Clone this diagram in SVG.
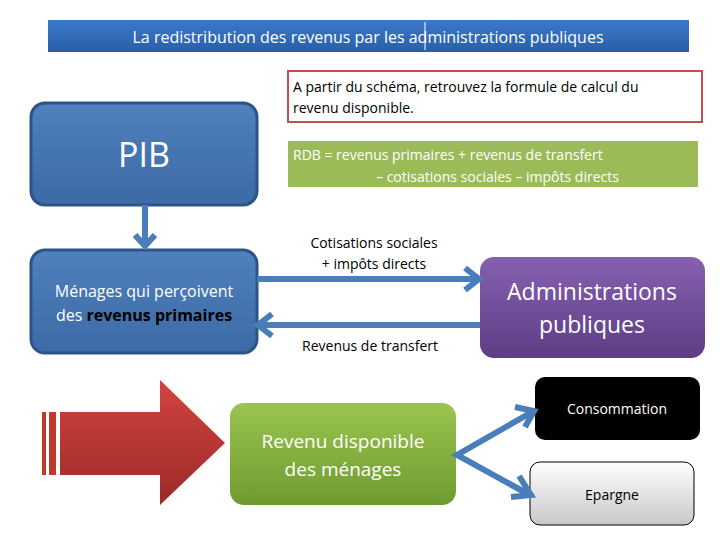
<svg xmlns="http://www.w3.org/2000/svg" width="720" height="540" viewBox="0 0 720 540">
<style>
text{font-family:"Open Sans","Liberation Sans",sans-serif}
.w{fill:#fff}.k{fill:#000}
.c{stroke:#4a7ebb;stroke-width:6;fill:none}
</style>
<defs>
<linearGradient id="gb" x1="0" y1="0" x2="0" y2="1"><stop offset="0" stop-color="#4f81bd"/><stop offset="1" stop-color="#3c6aa6"/></linearGradient>
<linearGradient id="gp" x1="0" y1="0" x2="0" y2="1"><stop offset="0" stop-color="#8560b0"/><stop offset="1" stop-color="#5e3d84"/></linearGradient>
<linearGradient id="gg" x1="0" y1="0" x2="0" y2="1"><stop offset="0" stop-color="#9bc54f"/><stop offset="1" stop-color="#6f9a30"/></linearGradient>
<linearGradient id="gr" x1="0" y1="0" x2="0" y2="1"><stop offset="0" stop-color="#d24340"/><stop offset="1" stop-color="#9c2a28"/></linearGradient>
<linearGradient id="gw" x1="0" y1="0" x2="0" y2="1"><stop offset="0" stop-color="#fff"/><stop offset="1" stop-color="#c8c8c8"/></linearGradient>
<linearGradient id="gt" x1="0" y1="0" x2="0" y2="1"><stop offset="0" stop-color="#3b78c8"/><stop offset="1" stop-color="#2a5fa8"/></linearGradient>
</defs>
<g id="title"><rect x="48" y="20" width="641" height="32" fill="url(#gt)"/><line x1="425" y1="22" x2="425" y2="50" stroke="#fff" stroke-width="1"/><text x="368" y="43" text-anchor="middle" class="w" font-size="16">La redistribution des revenus par les administrations publiques</text></g>
<g id="question"><rect x="288" y="71" width="414" height="51" fill="#fff" stroke="#c0504d" stroke-width="2"/><text x="293" y="92" class="k" font-size="14">A partir du schéma, retrouvez la formule de calcul du</text><text x="293" y="113" class="k" font-size="14">revenu disponible.</text></g>
<g id="formule"><rect x="288" y="141" width="410" height="46" fill="#9bbb59"/><text x="293" y="160" class="w" font-size="14">RDB  =   revenus primaires + revenus de transfert</text><text x="376" y="182" class="w" font-size="14">– cotisations sociales – impôts directs</text></g>
<g id="pib"><rect x="31" y="103" width="226" height="102" rx="14" fill="url(#gb)" stroke="#2c5487" stroke-width="3"/><text x="144" y="167" text-anchor="middle" class="w" font-size="34">PIB</text></g>
<g id="menages"><rect x="31" y="250" width="226" height="103" rx="14" fill="url(#gb)" stroke="#2c5487" stroke-width="3"/><text x="144" y="297" text-anchor="middle" class="w" font-size="16">Ménages qui perçoivent</text><text x="144" y="321" text-anchor="middle" font-size="16"><tspan class="w">des </tspan><tspan class="k" font-weight="bold">revenus primaires</tspan></text></g>
<g id="admin"><rect x="480" y="257" width="225" height="101" rx="14" fill="url(#gp)"/><text x="592" y="300" text-anchor="middle" class="w" font-size="23">Administrations</text><text x="592" y="333" text-anchor="middle" class="w" font-size="23">publiques</text></g>
<g id="fleche"><rect x="42" y="412" width="4" height="63" fill="#c0392b"/><rect x="49" y="412" width="7" height="63" fill="#c0392b"/><path d="M60 412H160V380L225 443L160 505V475H60Z" fill="url(#gr)"/></g>
<g id="rdb"><rect x="230" y="403" width="226" height="102" rx="14" fill="url(#gg)"/><text x="343" y="448" text-anchor="middle" class="w" font-size="19">Revenu disponible</text><text x="343" y="476" text-anchor="middle" class="w" font-size="19">des ménages</text></g>
<g id="conso"><rect x="535" y="377" width="165" height="63" rx="10" fill="#000"/><text x="617" y="414" text-anchor="middle" class="w" font-size="14">Consommation</text></g>
<g id="epargne"><rect x="530" y="462" width="164" height="63" rx="10" fill="url(#gw)" stroke="#000" stroke-width="1"/><text x="612" y="500" text-anchor="middle" class="k" font-size="14">Epargne</text></g>
<g id="connectors">
<path class="c" d="M145 205V244M135 235L145 246L155 235"/>
<path class="c" d="M257 279H477M465 268L479 279L465 290"/>
<path class="c" d="M480 325H260M272 314L258 325L272 336"/>
<path class="c" d="M532 412L457 455L528 494M515 407L534 411L525 427M519 476L531 495L511 497"/>
</g>
<g id="labels"><text x="374" y="248" text-anchor="middle" class="k" font-size="14">Cotisations sociales</text><text x="374" y="269" text-anchor="middle" class="k" font-size="14">+ impôts directs</text><text x="370" y="351" text-anchor="middle" class="k" font-size="14">Revenus de transfert</text></g>
</svg>
